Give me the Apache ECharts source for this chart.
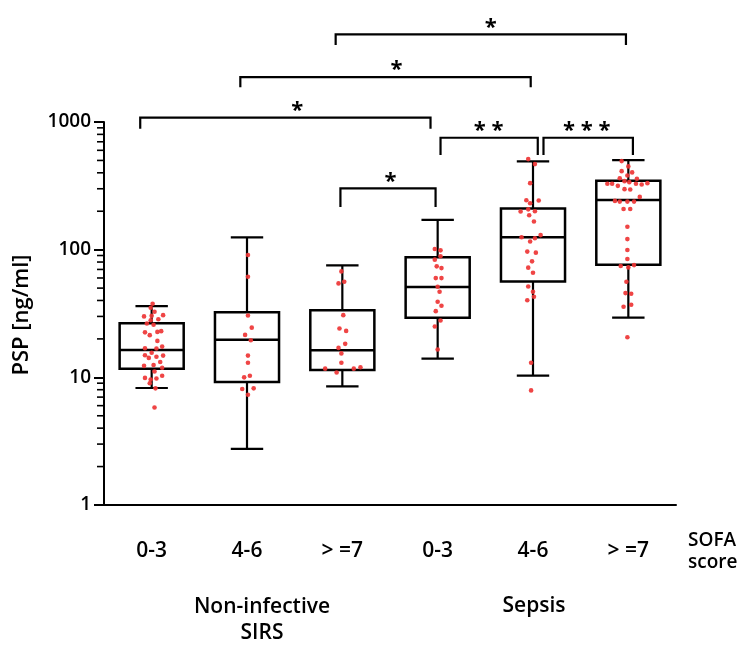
<!DOCTYPE html>
<html>
<head>
<meta charset="utf-8">
<script src="https://cdn.jsdelivr.net/npm/echarts@6/dist/echarts.min.js"></script>
<style>
  html, body { margin: 0; padding: 0; background: #fff; }
  #chart { width: 745px; height: 646px; }
</style>
</head>
<body>
<div id="chart"></div>
<script>
// SOFA score groups: three non-infective SIRS groups, then three sepsis groups
const categories = ['0-3', '4-6', '> =7', '0-3', '4-6', '> =7'];
const yTickValues = [1, 10, 100, 1000];

// Five-number summaries per group: [min, q1, median, q3, max]  (PSP, ng/ml)
const boxSirs03 = [8.25, 11.7, 16.4, 26.5, 36.1];
const boxSirs46 = [2.75, 9.2, 19.7, 32.4, 125];
const boxSirs7 = [8.5, 11.4, 16.3, 33.6, 75.3];
const boxSepsis03 = [14.0, 29.3, 50.9, 87.1, 171];
const boxSepsis46 = [10.3, 56.4, 125, 210, 491];
const boxSepsis7 = [29.4, 76.3, 245, 346, 503];

// Individual patients: [horizontal jitter, PSP value]
const ptsSirs03 = [
  [0.01, 37.7], [-0.01, 35.1], [0.03, 32.6], [-0.08, 30.0], [0.00, 30.3], [0.12, 30.7],
  [0.07, 28.5], [-0.01, 28.0], [-0.05, 26.4], [0.02, 25.8], [-0.07, 22.5], [-0.02, 21.4],
  [0.10, 23.0], [0.06, 22.7], [0.06, 19.3], [-0.07, 16.9], [0.05, 16.8], [0.11, 17.4],
  [0.00, 15.6], [-0.07, 14.9], [-0.03, 14.2], [0.05, 14.5], [0.12, 14.8], [0.09, 13.2],
  [0.02, 12.5], [-0.08, 12.3], [0.11, 11.9], [0.03, 11.1], [-0.07, 9.9], [-0.01, 9.6],
  [0.05, 9.8], [0.11, 10.3], [-0.02, 9.0], [0.04, 8.2], [0.03, 5.8]
];
const ptsSirs46 = [
  [0.01, 90.8], [0.01, 61.4], [0.01, 30.5], [0.05, 24.5], [-0.02, 21.5], [0.04, 19.5],
  [0.01, 14.8], [0.01, 13.0], [-0.03, 10.0], [0.03, 10.3], [-0.05, 8.1], [0.07, 8.2],
  [0.01, 7.3]
];
const ptsSirs7 = [
  [-0.01, 67.6], [-0.04, 54.4], [0.02, 56.1], [0.01, 30.7], [-0.03, 24.1], [0.04, 23.1],
  [0.03, 18.3], [-0.04, 17.0], [-0.01, 15.4], [-0.01, 13.0], [-0.18, 11.7], [-0.06, 10.9],
  [0.12, 11.7], [0.19, 12.0]
];
const ptsSepsis03 = [
  [-0.03, 101.2], [0.03, 98.8], [0.03, 88.7], [-0.03, 83.5], [-0.01, 74.0], [0.04, 71.7],
  [-0.02, 59.9], [0.04, 59.9], [0.00, 51.3], [0.02, 46.8], [0.00, 39.1], [0.04, 36.4],
  [-0.02, 33.0], [0.03, 27.9], [-0.03, 25.0], [0.00, 16.5]
];
const ptsSepsis46 = [
  [-0.05, 512], [0.02, 468], [-0.03, 332], [-0.07, 244], [0.06, 243], [-0.03, 231],
  [-0.05, 207], [0.02, 200], [-0.13, 199], [-0.04, 186], [0.01, 166], [-0.12, 125],
  [0.08, 130], [0.02, 123], [-0.03, 116], [-0.06, 96.6], [0.03, 94.8], [-0.01, 81.0],
  [-0.05, 72.3], [0.00, 66.0], [-0.05, 51.5], [0.00, 46.8], [0.01, 42.8], [-0.06, 40.2],
  [-0.02, 13.0], [-0.02, 7.9]
];
const ptsSepsis7 = [
  [-0.07, 494], [0.00, 449], [-0.07, 412], [0.04, 403], [-0.01, 381], [-0.09, 363],
  [0.09, 359], [-0.04, 344], [0.01, 338], [-0.22, 328], [-0.17, 328], [-0.11, 316],
  [0.08, 328], [0.14, 324], [0.20, 332], [-0.04, 298], [0.02, 296], [0.12, 259],
  [-0.14, 241], [-0.09, 238], [-0.01, 238], [0.06, 238], [-0.05, 208], [0.02, 208],
  [-0.01, 151], [-0.01, 121], [-0.01, 99.3], [-0.01, 84.4], [-0.08, 74.4], [0.00, 72.6],
  [0.06, 75.7], [-0.02, 56.1], [-0.03, 45.7], [0.03, 45.2], [-0.05, 35.7], [0.03, 37.0],
  [-0.01, 20.6]
];

// Significance brackets: [left x, right x, bar level, foot level, label x] in group units / PSP units
const brackets = [
  [1.93, 4.975, 4864, 4009, 3.556],
  [0.93, 3.976, 2250, 1870, 2.568],
  [-0.12, 2.925, 1081, 886, 1.528],
  [3.03, 4.05, 753, 551, 3.535],
  [4.11, 5.048, 753, 551, 4.564],
  [1.98, 2.978, 302, 216, 2.505]
];
const bracketLabels = ['*', '*', '*', '* *', '* * *', '*'];

// Minor ticks of the logarithmic axis
const minorTickValues = [2, 3, 4, 5, 6, 7, 8, 9, 20, 30, 40, 50, 60, 70, 80, 90, 200, 300, 400, 500, 600, 700, 800, 900];

const FONT = '"Open Sans", "Noto Sans", sans-serif';
const boxes = [boxSirs03, boxSirs46, boxSirs7, boxSepsis03, boxSepsis46, boxSepsis7];
const pointGroups = [ptsSirs03, ptsSirs46, ptsSirs7, ptsSepsis03, ptsSepsis46, ptsSepsis7];

const boxData = boxes.map((b, i) => [i].concat(b));
const scatterData = [];
pointGroups.forEach((g, i) => g.forEach(p => scatterData.push([i + p[0], p[1]])));

const chart = echarts.init(document.getElementById('chart'), null, { renderer: 'canvas' });

chart.setOption({
  animation: false,
  backgroundColor: '#fff',
  grid: { left: 104, right: 69, top: 122, bottom: 141, containLabel: false },
  xAxis: [
    {
      type: 'category',
      data: categories,
      boundaryGap: true,
      axisLine: { lineStyle: { color: '#000', width: 2 } },
      axisTick: { alignWithLabel: true, length: 8, lineStyle: { color: '#000', width: 2 } },
      axisLabel: { color: '#000', fontSize: 21, fontFamily: FONT, fontWeight: 600, margin: 36 },
      splitLine: { show: false }
    },
    { type: 'value', min: -0.5, max: 5.5, show: false }
  ],
  yAxis: {
    type: 'log',
    logBase: 10,
    min: yTickValues[0],
    max: yTickValues[yTickValues.length - 1],
    axisLine: { show: true, onZero: false, lineStyle: { color: '#000', width: 2 } },
    axisTick: { show: true, length: 10, lineStyle: { color: '#000', width: 2 } },
    axisLabel: {
      color: '#000', fontSize: 19, fontFamily: FONT, fontWeight: 600, margin: 13,
      formatter: v => String(v)
    },
    splitLine: { show: false }
  },
  graphic: [
    {
      type: 'text', x: 22, y: 315, rotation: Math.PI / 2,
      style: { text: 'PSP [ng/ml]', font: '600 22px ' + FONT, fill: '#000', align: 'center', verticalAlign: 'middle' }
    },
    {
      type: 'text', x: 688, y: 552,
      style: { text: 'SOFA\nscore', font: '600 19px ' + FONT, fill: '#000', align: 'left', verticalAlign: 'middle', lineHeight: 22 }
    },
    {
      type: 'text', x: 262, y: 620,
      style: { text: 'Non-infective\nSIRS', font: '600 21px ' + FONT, fill: '#000', align: 'center', verticalAlign: 'middle', lineHeight: 26 }
    },
    {
      type: 'text', x: 534, y: 606,
      style: { text: 'Sepsis', font: '600 21px ' + FONT, fill: '#000', align: 'center', verticalAlign: 'middle' }
    }
  ],
  series: [
    {
      // minor ticks between decades
      type: 'custom',
      xAxisIndex: 1,
      clip: false,
      silent: true,
      data: minorTickValues.map(v => [0, v]),
      renderItem: function (params, api) {
        const y = api.coord([0, api.value(1)])[1];
        const x0 = params.coordSys.x;
        return {
          type: 'line',
          shape: { x1: x0 - 7, y1: y, x2: x0, y2: y },
          style: { stroke: '#000', lineWidth: 1.6 }
        };
      }
    },
    {
      // box and whisker per group
      type: 'custom',
      xAxisIndex: 1,
      clip: false,
      data: boxData,
      z: 2,
      renderItem: function (params, api) {
        const i = api.value(0);
        const pMin = api.coord([i, api.value(1)]);
        const pQ1 = api.coord([i, api.value(2)]);
        const pMed = api.coord([i, api.value(3)]);
        const pQ3 = api.coord([i, api.value(4)]);
        const pMax = api.coord([i, api.value(5)]);
        const band = api.coord([i + 0.5, api.value(3)])[0] - api.coord([i - 0.5, api.value(3)])[0];
        const hb = band * 0.336;
        const hc = band * 0.17;
        const x = pMed[0];
        const ls = { stroke: '#000', lineWidth: 2.2 };
        return {
          type: 'group',
          children: [
            { type: 'line', shape: { x1: x, y1: pMax[1], x2: x, y2: pQ3[1] }, style: ls },
            { type: 'line', shape: { x1: x, y1: pQ1[1], x2: x, y2: pMin[1] }, style: ls },
            { type: 'line', shape: { x1: x - hc, y1: pMax[1], x2: x + hc, y2: pMax[1] }, style: ls },
            { type: 'line', shape: { x1: x - hc, y1: pMin[1], x2: x + hc, y2: pMin[1] }, style: ls },
            { type: 'rect', shape: { x: x - hb, y: pQ3[1], width: 2 * hb, height: pQ1[1] - pQ3[1] },
              style: { fill: '#fff', stroke: '#000', lineWidth: 2.5 } },
            { type: 'line', shape: { x1: x - hb, y1: pMed[1], x2: x + hb, y2: pMed[1] }, style: { stroke: '#000', lineWidth: 2.5 } }
          ]
        };
      }
    },
    {
      type: 'scatter',
      xAxisIndex: 1,
      symbol: 'circle',
      symbolSize: 4.6,
      z: 3,
      itemStyle: { color: '#ee3535', opacity: 0.92 },
      data: scatterData
    },
    {
      // significance brackets
      type: 'custom',
      xAxisIndex: 1,
      clip: false,
      silent: true,
      data: brackets,
      renderItem: function (params, api) {
        const a = api.coord([api.value(0), api.value(2)]);
        const b = api.coord([api.value(1), api.value(2)]);
        const footY = api.coord([api.value(0), api.value(3)])[1];
        const lx = api.coord([api.value(4), api.value(2)])[0];
        return {
          type: 'group',
          children: [
            {
              type: 'polyline',
              shape: { points: [[a[0], footY], [a[0], a[1]], [b[0], b[1]], [b[0], footY]] },
              style: { stroke: '#000', lineWidth: 2.2, fill: null }
            },
            {
              type: 'text',
              x: lx, y: a[1] + 4,
              style: { text: bracketLabels[params.dataIndex], font: 'bold 22px ' + FONT, fill: '#000', align: 'center', verticalAlign: 'bottom' }
            }
          ]
        };
      }
    }
  ]
});
</script>
</body>
</html>
